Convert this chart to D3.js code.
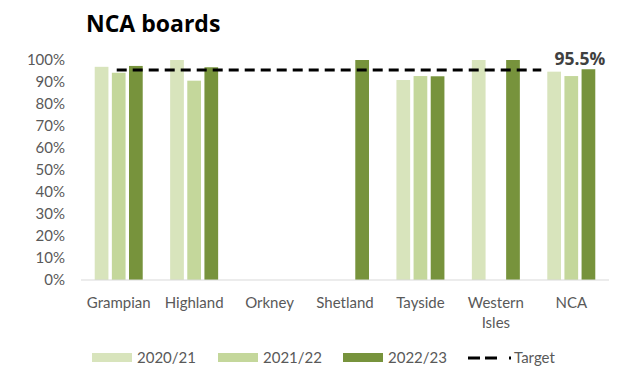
<!DOCTYPE html>
<html>
<head>
<meta charset="utf-8">
<script src="https://cdn.jsdelivr.net/npm/d3@7"></script>
<style>
  body { margin: 0; background: #fff; }
  svg { font-family: Lato, "Open Sans", sans-serif; }
</style>
</head>
<body>
<svg id="chart" width="631" height="368"></svg>
<script>
// board names, x labels may wrap on a space
var boards = ["Grampian", "Highland", "Orkney", "Shetland", "Tayside", "Western Isles", "NCA"];
var years = ["2020/21", "2021/22", "2022/23"];
// percent values per year, null = no bar
var v2020 = [96.9, 100, null, null, 90.9, 100, 94.7];
var v2021 = [94.2, 90.6, null, null, 92.7, null, 92.7];
var v2022 = [97.3, 96.7, null, 100, 92.6, 100, 95.8];
var target = 95.5;
var yTicks = [0, 10, 20, 30, 40, 50, 60, 70, 80, 90, 100];

var colors = ["#d8e4bc", "#c4d79b", "#77933c"];
var series = [v2020, v2021, v2022];

var svg = d3.select("#chart");
var margin = {left: 81, right: 22, top: 60, bottom: 88};
var width = 631 - margin.left - margin.right;
var height = 368 - margin.top - margin.bottom;

var x = d3.scaleBand().domain(boards).range([0, width]);
var xs = d3.scaleBand().domain(years).range([0, 48]).paddingInner(0.2);
var y = d3.scaleLinear().domain([0, 100]).range([height, 0]);

var g = svg.append("g").attr("transform", "translate(" + margin.left + "," + margin.top + ")");

svg.append("text")
  .attr("x", 86).attr("y", 32)
  .attr("font-family", "'Open Sans', sans-serif")
  .attr("font-size", 23).attr("font-weight", "bold")
  .attr("fill", "#000")
  .text("NCA boards");

// y axis labels
g.selectAll(".ytick")
  .data(yTicks)
  .enter().append("text")
    .attr("x", -16)
    .attr("y", function(d) { return y(d); })
    .attr("dy", "0.35em")
    .attr("text-anchor", "end")
    .attr("font-size", 15)
    .attr("fill", "#595959")
    .text(function(d) { return d + "%"; });

// bars
series.forEach(function(vals, si) {
  g.selectAll(".bar" + si)
    .data(boards.map(function(b, i) { return {board: b, value: vals[i]}; }).filter(function(d) { return d.value != null; }))
    .enter().append("rect")
      .attr("x", function(d) { return x(d.board) + x.bandwidth() / 2 - 24 + xs(years[si]); })
      .attr("width", xs.bandwidth())
      .attr("y", function(d) { return y(d.value); })
      .attr("height", function(d) { return height - y(d.value); })
      .attr("fill", colors[si]);
});

// axis line
g.append("line")
  .attr("x1", 0).attr("x2", width)
  .attr("y1", height).attr("y2", height)
  .attr("stroke", "#d9d9d9").attr("stroke-width", 1);

// x labels
g.selectAll(".xlab")
  .data(boards)
  .enter().append("text")
    .attr("x", function(d) { return x(d) + x.bandwidth() / 2; })
    .attr("y", height + 28)
    .attr("text-anchor", "middle")
    .attr("font-size", 15)
    .attr("fill", "#595959")
    .each(function(d) {
      var parts = d.split(" ");
      var t = d3.select(this);
      parts.forEach(function(p, i) {
        t.append("tspan").attr("x", x(d) + x.bandwidth() / 2).attr("dy", i ? 20 : 0).text(p);
      });
    });

// target line
var tx1 = x("Grampian") + x.bandwidth() / 2 - 2;
var tx2 = x("NCA") + x.bandwidth() / 2 - 30;
g.append("line")
  .attr("x1", tx1).attr("x2", tx2)
  .attr("y1", y(target)).attr("y2", y(target))
  .attr("stroke", "#000").attr("stroke-width", 3)
  .attr("stroke-dasharray", "10,6");

g.append("text")
  .attr("x", x("NCA") + x.bandwidth() / 2 + 34)
  .attr("y", y(target) - 5)
  .attr("text-anchor", "end")
  .attr("font-family", "'Open Sans', sans-serif")
  .attr("font-size", 17.5).attr("font-weight", "bold")
  .attr("fill", "#404040")
  .text(target + "%");

// legend
var legend = svg.append("g").attr("transform", "translate(0,358)");
var legX = [92, 218, 343];
years.forEach(function(yr, i) {
  legend.append("rect")
    .attr("x", legX[i]).attr("y", -5)
    .attr("width", 40).attr("height", 9)
    .attr("fill", colors[i]);
  legend.append("text")
    .attr("x", legX[i] + 45).attr("y", 0)
    .attr("dy", "0.35em")
    .attr("font-size", 15).attr("fill", "#595959")
    .text(yr);
});
legend.append("line")
  .attr("x1", 468).attr("x2", 511)
  .attr("y1", 0).attr("y2", 0)
  .attr("stroke", "#000").attr("stroke-width", 3)
  .attr("stroke-dasharray", "12,5,12,12,2");
legend.append("text")
  .attr("x", 514).attr("y", 0)
  .attr("dy", "0.35em")
  .attr("font-size", 15).attr("fill", "#595959")
  .text("Target");
</script>
</body>
</html>
